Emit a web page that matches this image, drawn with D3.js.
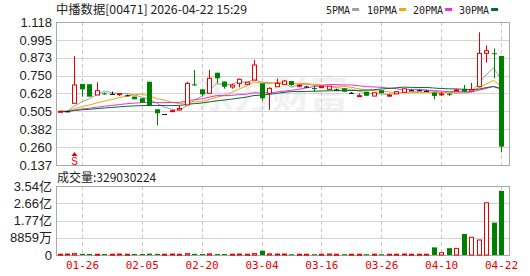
<!DOCTYPE html>
<html>
<head>
<meta charset="utf-8">
<script src="https://cdn.jsdelivr.net/npm/d3@7/dist/d3.min.js"></script>
<style>
  body { margin: 0; background: #fff; }
  text { font-family: "Liberation Sans", "Noto Sans CJK SC", sans-serif; }
</style>
</head>
<body>
<div id="chart"></div>
<script>
'use strict';

// trading days shown (HK)
var dates = ["01-21","01-22","01-23","01-26","01-27","01-28","01-29","01-30",
  "02-02","02-03","02-04","02-05","02-06","02-09","02-10","02-11","02-12","02-13","02-16","02-20",
  "02-23","02-24","02-25","02-26","02-27","03-02","03-03","03-04","03-05","03-06",
  "03-09","03-10","03-11","03-12","03-13","03-16","03-17","03-18","03-19","03-20",
  "03-23","03-24","03-25","03-26","03-27","03-30","03-31","04-01","04-02","04-08",
  "04-09","04-10","04-13","04-14","04-15","04-16","04-17","04-20","04-21","04-22"];

var open  = [0.500,0.505,0.560,0.693,0.691,0.617,0.628,0.625,0.624,0.615,
             0.606,0.595,0.708,0.519,0.487,0.503,0.515,0.549,0.690,0.656,
             0.629,0.770,0.709,0.672,0.697,0.690,0.720,0.697,0.629,0.674,
             0.690,0.713,0.680,0.675,0.665,0.670,0.656,0.655,0.663,0.632,
             0.610,0.640,0.610,0.650,0.610,0.625,0.636,0.650,0.650,0.645,
             0.634,0.620,0.625,0.650,0.660,0.645,0.674,0.903,0.904,0.885];
var high  = [0.505,0.508,0.885,0.693,0.691,0.704,0.635,0.640,0.630,0.620,
             0.606,0.595,0.708,0.519,0.487,0.515,0.545,0.708,0.789,0.656,
             0.789,0.770,0.709,0.695,0.730,0.705,0.857,0.697,0.670,0.730,
             0.720,0.713,0.690,0.680,0.680,0.680,0.678,0.660,0.663,0.636,
             0.628,0.640,0.633,0.650,0.625,0.640,0.660,0.655,0.655,0.650,
             0.634,0.638,0.630,0.660,0.686,0.700,1.047,0.958,0.937,0.885];
var low   = [0.500,0.503,0.560,0.606,0.606,0.617,0.620,0.625,0.610,0.612,
             0.588,0.564,0.542,0.410,0.487,0.500,0.510,0.549,0.680,0.606,
             0.629,0.697,0.660,0.660,0.670,0.690,0.720,0.578,0.515,0.674,
             0.690,0.680,0.670,0.670,0.640,0.665,0.656,0.650,0.640,0.628,
             0.605,0.612,0.610,0.630,0.605,0.625,0.636,0.645,0.645,0.640,
             0.588,0.610,0.610,0.645,0.640,0.640,0.674,0.839,0.732,0.224];
var close = [0.505,0.505,0.686,0.656,0.606,0.647,0.627,0.625,0.627,0.615,
             0.588,0.564,0.542,0.492,0.487,0.510,0.525,0.697,0.685,0.622,
             0.732,0.732,0.674,0.685,0.725,0.705,0.823,0.595,0.663,0.697,
             0.713,0.686,0.684,0.675,0.660,0.675,0.678,0.655,0.640,0.632,
             0.613,0.612,0.633,0.630,0.616,0.640,0.660,0.650,0.650,0.645,
             0.611,0.625,0.620,0.652,0.640,0.655,0.903,0.921,0.898,0.263];

// closes before the visible window (only used for the moving averages)
var priorClose = [0.505,0.500,0.505,0.510,0.505,0.500,0.505,0.505,0.500,0.505,
                  0.510,0.505,0.500,0.505,0.505,0.500,0.505,0.510,0.505,0.505,
                  0.500,0.505,0.505,0.500,0.505,0.505,0.510,0.505,0.505];

// volume in shares
var volume = [4e6,5e6,7e6,6e6,5e6,4e6,5e6,4e6,5e6,4e6,
              5e6,5e6,7e6,6e6,4e6,5e6,4e6,7e6,6e6,5e6,
              6e6,5e6,5e6,4e6,5e6,4e6,7e6,2.2e7,6e6,5e6,
              5e6,4e6,4e6,4e6,4e6,4e6,5e6,4e6,4e6,4e6,
              4e6,4e6,4e6,4e6,4e6,4e6,5e6,4e6,4e6,4e6,
              3.9e7,1.2e7,3.5e7,3.4e7,1.08e8,9.1e7,7.7e7,2.68e8,1.66e8,329030224];

var priceTicks = [0.137,0.260,0.382,0.505,0.628,0.750,0.873,0.995,1.118];
var volTicks = [0, 88590000, 177000000, 266000000, 354000000];
var volTickLabels = ["0","8859万","1.77亿","2.66亿","3.54亿"];
var dateTicks = ["01-26","02-05","02-20","03-04","03-16","03-26","04-10","04-22"];
var maPeriods = [5, 10, 20, 30];
var maNames = ["5PMA","10PMA","20PMA","30PMA"];
var maColors = ["#a0a0a0","#f0a800","#e830e8","#0a6b32"];

var RED = "#e60000", GREEN = "#008000";

var W = 530, H = 276;
var left = 56, right = 509;
var priceTop = 22, priceBottom = 165;
var volTop = 186, volBottom = 255;

var svg = d3.select("#chart").append("svg")
    .attr("width", W)
    .attr("height", H);

var x = d3.scalePoint()
    .domain(dates)
    .range([59.5, 501]);

var y = d3.scaleLinear()
    .domain([0.137, 1.118])
    .range([priceBottom, priceTop]);

var yv = d3.scaleLinear()
    .domain([0, 354000000])
    .range([volBottom, volTop]);

// watermark
svg.append("text")
    .attr("x", 272).attr("y", 108)
    .attr("text-anchor", "middle")
    .attr("font-size", 38)
    .attr("font-weight", "bold")
    .attr("fill", "#f1f1f1")
    .style("font-family", "'Noto Sans CJK SC'")
    .text("东方财富");

// grids for both panels
var drawPanel = function(top, bottom, ticks, scale) {
  svg.append("g").selectAll("line")
      .data(ticks.slice(1, ticks.length - 1))
      .enter().append("line")
        .attr("x1", left).attr("x2", right)
        .attr("y1", function(d) { return Math.round(scale(d)) + 0.5; })
        .attr("y2", function(d) { return Math.round(scale(d)) + 0.5; })
        .attr("stroke", "#d4d4d4");
  svg.append("g").selectAll("line")
      .data(dateTicks)
      .enter().append("line")
        .attr("x1", function(d) { return Math.round(x(d)) + 0.5; })
        .attr("x2", function(d) { return Math.round(x(d)) + 0.5; })
        .attr("y1", top).attr("y2", bottom)
        .attr("stroke", "#c8c8c8")
        .attr("stroke-dasharray", "4,3");
  svg.append("rect")
      .attr("x", left + 0.5).attr("y", top + 0.5)
      .attr("width", right - left).attr("height", bottom - top)
      .attr("fill", "none")
      .attr("stroke", "#a8a8a8");
};
drawPanel(priceTop, priceBottom, priceTicks, y);
drawPanel(volTop, volBottom, volTicks, yv);

// axis labels
var yAxis = d3.axisLeft(y).tickValues(priceTicks).tickFormat(d3.format(".3f")).tickSize(0).tickPadding(4);
svg.append("g")
    .attr("transform", "translate(" + left + ",0)")
    .call(yAxis)
    .call(function(g) { g.select(".domain").remove(); })
    .selectAll("text")
      .attr("font-size", 13)
      .attr("fill", "#222");

var vAxis = d3.axisLeft(yv).tickValues(volTicks)
    .tickFormat(function(d, i) { return volTickLabels[i]; })
    .tickSize(0).tickPadding(4);
svg.append("g")
    .attr("transform", "translate(" + left + ",0)")
    .call(vAxis)
    .call(function(g) { g.select(".domain").remove(); })
    .selectAll("text")
      .attr("font-size", 13)
      .attr("fill", "#222")
      .style("font-family", "'Liberation Sans','Noto Sans CJK SC'");

var xAxis = d3.axisBottom(x).tickValues(dateTicks).tickSize(0).tickPadding(6);
svg.append("g")
    .attr("transform", "translate(0," + volBottom + ")")
    .call(xAxis)
    .call(function(g) { g.select(".domain").remove(); })
    .selectAll("text")
      .attr("font-size", 11)
      .attr("fill", RED)
      .style("font-family", "'DejaVu Sans Mono', monospace");

// moving averages, using the earlier closes too
var allClose = priorClose.concat(close);
var offset = priorClose.length;
var line = d3.line()
    .x(function(d) { return x(dates[d.i]); })
    .y(function(d) { return y(d.v); });

maPeriods.forEach(function(p, k) {
  var pts = [];
  for (var i = 0; i < close.length; i++) {
    var j = i + offset;
    var from = Math.max(0, j - p + 1);
    pts.push({ i: i, v: d3.mean(allClose.slice(from, j + 1)) });
  }
  svg.append("path")
      .datum(pts)
      .attr("fill", "none")
      .attr("stroke", maColors[k])
      .attr("stroke-width", 1)
      .attr("d", line);
});

// candles
var candle = svg.append("g").selectAll("g")
    .data(dates.map(function(d, i) {
      return { date: d, o: open[i], h: high[i], l: low[i], c: close[i], v: volume[i] };
    }))
    .enter().append("g");

var colorOf = function(d) {
  if (d.c > d.o) return RED;
  if (d.c < d.o) return GREEN;
  return "#000";
};

candle.append("line")
    .attr("x1", function(d) { return Math.round(x(d.date)) + 0.5; })
    .attr("x2", function(d) { return Math.round(x(d.date)) + 0.5; })
    .attr("y1", function(d) { return y(d.h); })
    .attr("y2", function(d) { return y(d.l); })
    .attr("stroke", colorOf);

candle.append("rect")
    .attr("x", function(d) { return Math.round(x(d.date)) - 2 + (d.c > d.o ? 0.5 : 0); })
    .attr("y", function(d) { return y(Math.max(d.o, d.c)); })
    .attr("width", function(d) { return d.c > d.o ? 4 : 5; })
    .attr("height", function(d) { return Math.max(1, Math.abs(y(d.o) - y(d.c))); })
    .attr("fill", function(d) { return d.c > d.o ? "#fff" : colorOf(d); })
    .attr("stroke", function(d) { return d.c > d.o ? RED : "none"; });

// volume bars
candle.append("rect")
    .attr("x", function(d) { return Math.round(x(d.date)) - 2 + (d.c >= d.o ? 0.5 : 0); })
    .attr("y", function(d) { return yv(d.v); })
    .attr("width", function(d) { return d.c >= d.o ? 4 : 5; })
    .attr("height", function(d) { return Math.max(1, volBottom - yv(d.v)); })
    .attr("fill", function(d) { return d.c >= d.o ? "#fff" : GREEN; })
    .attr("stroke", function(d) { return d.c >= d.o ? RED : "none"; });

// "S" marker under the 01-23 candle
var sx = Math.round(x("01-23")) + 0.5;
svg.append("path")
    .attr("d", "M" + (sx - 3) + ",156 L" + sx + ",152 L" + (sx + 3) + ",156 Z")
    .attr("fill", RED);
svg.append("text")
    .attr("x", sx).attr("y", 165)
    .attr("text-anchor", "middle")
    .attr("font-size", 10)
    .attr("fill", RED)
    .text("S");

// title + volume caption
svg.append("text")
    .attr("x", 56).attr("y", 14)
    .attr("font-size", 12)
    .attr("fill", "#222")
    .attr("textLength", 191)
    .attr("lengthAdjust", "spacingAndGlyphs")
    .style("font-family", "'Noto Sans CJK SC'")
    .text("中播数据[00471] 2026-04-22 15:29");

svg.append("text")
    .attr("x", 57).attr("y", 182)
    .attr("font-size", 12)
    .attr("fill", "#222")
    .style("font-family", "'Noto Sans CJK SC'")
    .text("成交量:" + volume[volume.length - 1]);

// legend: name then a short colour bar
var legendX = [326, 367, 413, 459];
maNames.forEach(function(n, k) {
  var t = svg.append("text")
      .attr("x", legendX[k]).attr("y", 14)
      .attr("font-size", 10)
      .attr("fill", "#222")
      .style("font-family", "'DejaVu Sans Mono', monospace")
      .text(n);
  var tw = t.node().getComputedTextLength();
  svg.append("rect")
      .attr("x", legendX[k] + tw + 2).attr("y", 8)
      .attr("width", 7).attr("height", 3)
      .attr("fill", maColors[k]);
});
</script>
</body>
</html>
